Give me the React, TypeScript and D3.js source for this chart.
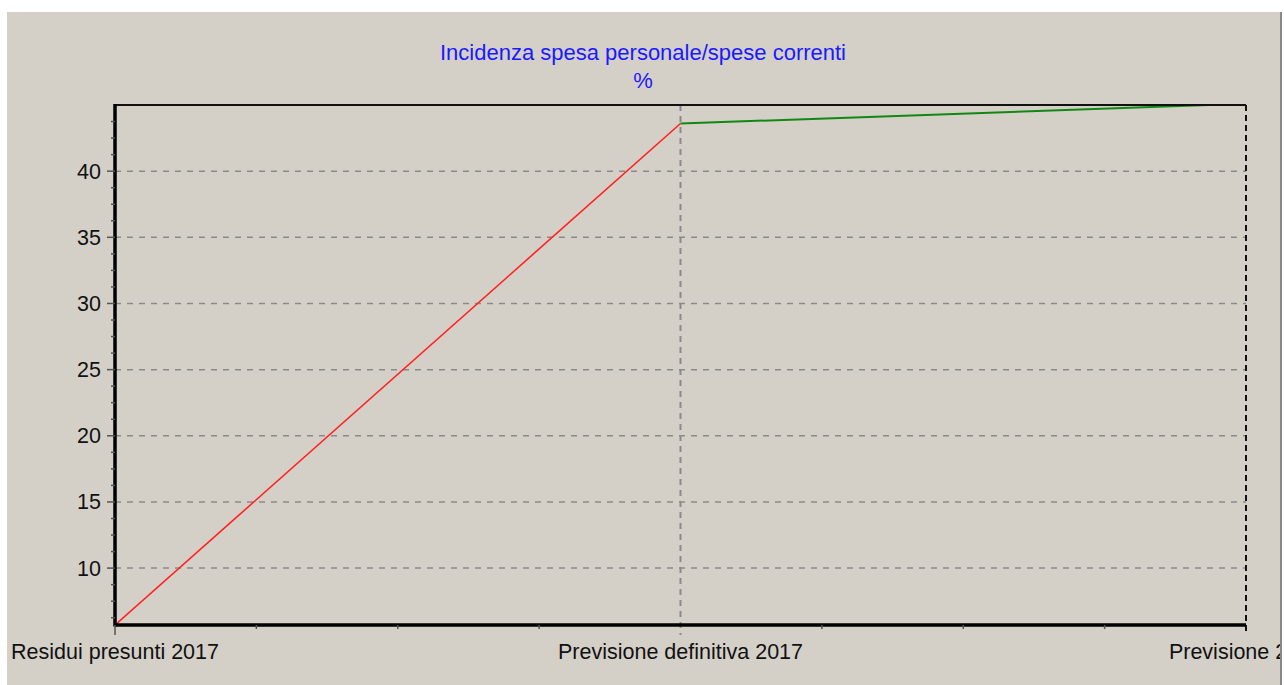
import React from "react";
import * as d3 from "d3";

const title = "Incidenza spesa personale/spese correnti";
const subtitle = "%";
const categories = ["Residui presunti 2017", "Previsione definitiva 2017", "Previsione 2018"];
const redSeries = [5.7, 43.6];
const greenSeries = [43.6, 45.1];
const yTicks = [10, 15, 20, 25, 30, 35, 40];
const yDomain = [5.7, 45];

const W = 1284;
const H = 685;
const PL = 115, PR = 1246, PT = 105, PB = 625;
const FONT = "'Liberation Sans', Arial, sans-serif";

export default function App() {
  const x = d3.scalePoint<string>().domain(categories).range([PL, PR]);
  const y = d3.scaleLinear().domain(yDomain).range([PB, PT]);
  const line = d3
    .line<[string, number]>()
    .x((d) => x(d[0]) as number)
    .y((d) => y(d[1]));
  const redPts: [string, number][] = redSeries.map((v, i) => [categories[i], v]);
  const greenPts: [string, number][] = greenSeries.map((v, i) => [categories[i + 1], v]);

  const step = (x(categories[1]) as number) - (x(categories[0]) as number);
  const xMinor: number[] = [];
  for (let i = 0; i < categories.length - 1; i++) {
    for (let k = 1; k < 4; k++) xMinor.push((x(categories[i]) as number) + (step * k) / 4);
  }
  const yMinor: number[] = [];
  for (let v = 5; v <= 45; v += 1.25) {
    if (v >= yDomain[0] && v <= yDomain[1] && v % 5 !== 0) yMinor.push(y(v));
  }

  return (
    <svg
      width={W}
      height={H}
      style={{ position: "absolute", left: 0, top: 0, display: "block" }}
      fontFamily={FONT}
    >
      <defs>
        <clipPath id="plotclip">
          <rect x={PL} y={PT} width={PR - PL} height={PB - PT} />
        </clipPath>
        <clipPath id="panelclip">
          <rect x={7} y={12} width={1273} height={H - 12} />
        </clipPath>
      </defs>
      <rect x={0} y={0} width={W} height={H} fill="#ffffff" />
      <rect x={7} y={12} width={1275} height={H - 12} fill="#d4d0c8" />
      <rect x={1280} y={12} width={2} height={H - 12} fill="#888888" />

      <text x={643} y={60} textAnchor="middle" fill="#1a1aff" fontSize={22}>
        {title}
      </text>
      <text x={643} y={88} textAnchor="middle" fill="#1a1aff" fontSize={22}>
        {subtitle}
      </text>

      {/* horizontal gridlines */}
      {yTicks.map((t) => (
        <line
          key={"g" + t}
          x1={PL}
          x2={PR}
          y1={y(t)}
          y2={y(t)}
          stroke="#8a8a8a"
          strokeWidth={1.5}
          strokeDasharray="6 6"
        />
      ))}
      {/* vertical gridline at middle category */}
      <line
        x1={x(categories[1])}
        x2={x(categories[1])}
        y1={PT}
        y2={PB + 10}
        stroke="#8a8a8a"
        strokeWidth={2}
        strokeDasharray="6 5"
      />

      <g clipPath="url(#plotclip)">
        <path d={line(redPts) || ""} fill="none" stroke="#ff2020" strokeWidth={1.6} />
        <path d={line(greenPts) || ""} fill="none" stroke="#118811" strokeWidth={2} />
      </g>

      {/* top border */}
      <line x1={PL} x2={PR} y1={PT} y2={PT} stroke="#111" strokeWidth={2} />
      {/* right border dashed */}
      <line x1={PR} x2={PR} y1={PT} y2={PB + 10} stroke="#111" strokeWidth={2} strokeDasharray="6 4" />
      {/* left axis */}
      <line x1={PL} x2={PL} y1={PT - 1} y2={PB + 1.5} stroke="#000" strokeWidth={3.5} />
      {/* bottom axis */}
      <line x1={PL} x2={PR} y1={PB} y2={PB} stroke="#000" strokeWidth={3.5} />

      {/* y ticks */}
      {yTicks.map((t) => (
        <line key={"t" + t} x1={107} x2={PL} y1={y(t)} y2={y(t)} stroke="#555" strokeWidth={1.5} />
      ))}
      {yMinor.map((py, i) => (
        <line key={"m" + i} x1={111} x2={PL} y1={py} y2={py} stroke="#555" strokeWidth={1.5} />
      ))}
      {yTicks.map((t) => (
        <text
          key={"l" + t}
          x={101}
          y={y(t) + 7.5}
          textAnchor="end"
          fontSize={21.5}
          fill="#111"
        >
          {t}
        </text>
      ))}

      {/* x ticks */}
      <line x1={PL} x2={PL} y1={PB} y2={PB + 10} stroke="#555" strokeWidth={1.5} />
      {xMinor.map((px, i) => (
        <line key={"xm" + i} x1={px} x2={px} y1={PB} y2={PB + 4} stroke="#555" strokeWidth={1.5} />
      ))}
      <g clipPath="url(#panelclip)">
        {categories.map((c) => (
          <text
            key={c}
            x={x(c)}
            y={659}
            textAnchor="middle"
            fontSize={21.5}
            fill="#111"
          >
            {c}
          </text>
        ))}
      </g>
    </svg>
  );
}
